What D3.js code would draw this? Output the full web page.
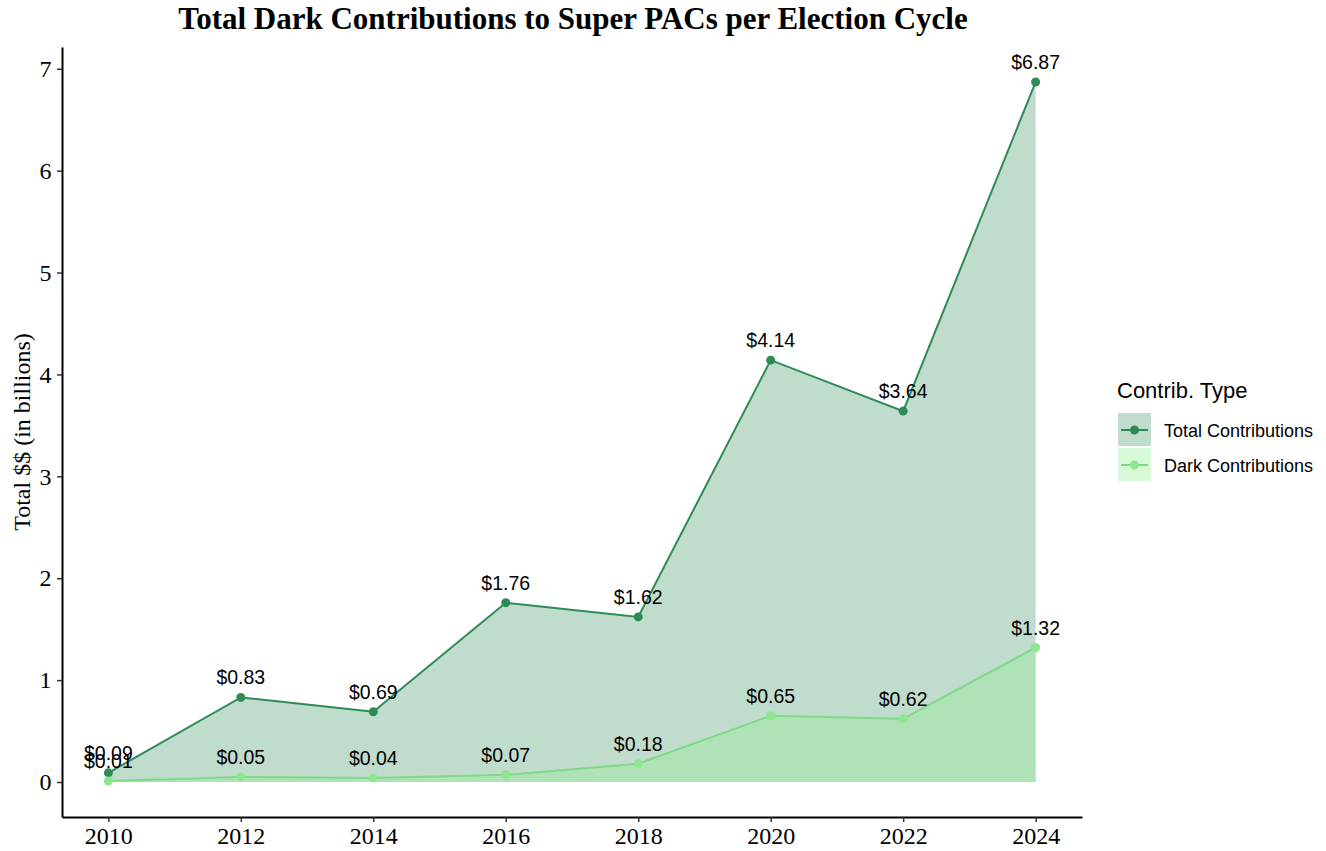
<!DOCTYPE html>
<html>
<head>
<meta charset="utf-8">
<script src="https://cdn.jsdelivr.net/npm/d3@7"></script>
<style>
  body { margin: 0; background: #fff; }
  svg { display: block; }
</style>
</head>
<body>
<svg id="chart" width="1326" height="851"></svg>
<script>
let years = [2010, 2012, 2014, 2016, 2018, 2020, 2022, 2024];
let totalVals = [0.09, 0.83, 0.69, 1.76, 1.62, 4.14, 3.64, 6.87];
let darkVals = [0.01, 0.05, 0.04, 0.07, 0.18, 0.65, 0.62, 1.32];
let yTicks = [0, 1, 2, 3, 4, 5, 6, 7];
let seriesNames = ['Total Contributions', 'Dark Contributions'];

let series = [
  {name: seriesNames[0], vals: totalVals, line: '#2e8b57', fill: 'rgba(46,139,87,0.3)'},
  {name: seriesNames[1], vals: darkVals, line: '#7fd987', fill: 'rgba(144,238,144,0.35)', point: '#8ee68f'}
];

let svg = d3.select('#chart');
let m = {l: 62, r: 1082, t: 47, b: 817};

let x = d3.scaleLinear()
  .domain([2009.3, 2024.7])
  .range([m.l, m.r]);

let y = d3.scaleLinear()
  .domain([-0.3435, 7.2135])
  .range([m.b, m.t]);

// areas first so both lines sit on top
for (let s of series) {
  let pts = years.map((yr, i) => ({yr: yr, v: s.vals[i]}));

  svg.append('path')
    .datum(pts)
    .attr('d', d3.area().x(d => x(d.yr)).y0(y(0)).y1(d => y(d.v)))
    .attr('fill', s.fill);
}

for (let s of series) {
  let pts = years.map((yr, i) => ({yr: yr, v: s.vals[i]}));

  svg.append('path')
    .datum(pts)
    .attr('d', d3.line().x(d => x(d.yr)).y(d => y(d.v)))
    .attr('fill', 'none')
    .attr('stroke', s.line)
    .attr('stroke-width', 2);

  svg.append('g').selectAll('circle')
    .data(pts)
    .enter()
    .append('circle')
    .attr('cx', d => x(d.yr))
    .attr('cy', d => y(d.v))
    .attr('r', 4.5)
    .attr('fill', s.point || s.line);

  svg.append('g').selectAll('text')
    .data(pts)
    .enter()
    .append('text')
    .attr('x', d => x(d.yr))
    .attr('y', d => y(d.v) - 13)
    .attr('text-anchor', 'middle')
    .style('font-family', 'Liberation Sans, Arial, sans-serif')
    .style('font-size', '19.5px')
    .attr('fill', '#000')
    .text(d => '$' + d.v.toFixed(2));
}

// axes
let xAxis = svg.append('g')
  .attr('transform', `translate(0,${m.b})`)
  .call(d3.axisBottom(x).tickValues(years).tickFormat(d3.format('d')).tickSize(5).tickSizeOuter(0));

let yAxis = svg.append('g')
  .attr('transform', `translate(${m.l},0)`)
  .call(d3.axisLeft(y).tickValues(yTicks).tickSize(5).tickSizeOuter(0));

for (let a of [xAxis, yAxis]) {
  a.select('.domain').attr('stroke', '#000').attr('stroke-width', 2);
  a.selectAll('.tick line').attr('stroke', '#333').attr('stroke-width', 1.5);
  a.selectAll('.tick text')
    .style('font-family', 'Liberation Serif, Times New Roman, serif')
    .style('font-size', '24px')
    .attr('fill', '#000');
}
xAxis.selectAll('.tick text').attr('dy', '0.8em');
yAxis.selectAll('.tick text').attr('dx', '-0.1em');

// title + axis label
svg.append('text')
  .attr('x', 573)
  .attr('y', 29)
  .attr('text-anchor', 'middle')
  .style('font-family', 'Liberation Serif, Times New Roman, serif')
  .style('font-weight', 'bold')
  .style('font-size', '31px')
  .text('Total Dark Contributions to Super PACs per Election Cycle');

svg.append('text')
  .attr('transform', 'translate(30,432) rotate(-90)')
  .attr('text-anchor', 'middle')
  .style('font-family', 'Liberation Serif, Times New Roman, serif')
  .style('font-size', '24px')
  .text('Total $$ (in billions)');

// legend
let lg = svg.append('g').attr('transform', 'translate(1117,0)');

lg.append('text')
  .attr('x', 0)
  .attr('y', 398)
  .style('font-family', 'Liberation Sans, Arial, sans-serif')
  .style('font-size', '22px')
  .text('Contrib. Type');

series.forEach((s, i) => {
  let ky = 413 + i * 35;
  lg.append('rect')
    .attr('x', 1).attr('y', ky)
    .attr('width', 33).attr('height', 33)
    .attr('fill', s.fill);
  lg.append('line')
    .attr('x1', 4).attr('x2', 31)
    .attr('y1', ky + 17).attr('y2', ky + 17)
    .attr('stroke', s.line).attr('stroke-width', 2);
  lg.append('circle')
    .attr('cx', 17.5).attr('cy', ky + 17).attr('r', 4.5)
    .attr('fill', s.point || s.line);
  lg.append('text')
    .attr('x', 47)
    .attr('y', ky + 24)
    .style('font-family', 'Liberation Sans, Arial, sans-serif')
    .style('font-size', '18px')
    .text(s.name);
});
</script>
</body>
</html>
